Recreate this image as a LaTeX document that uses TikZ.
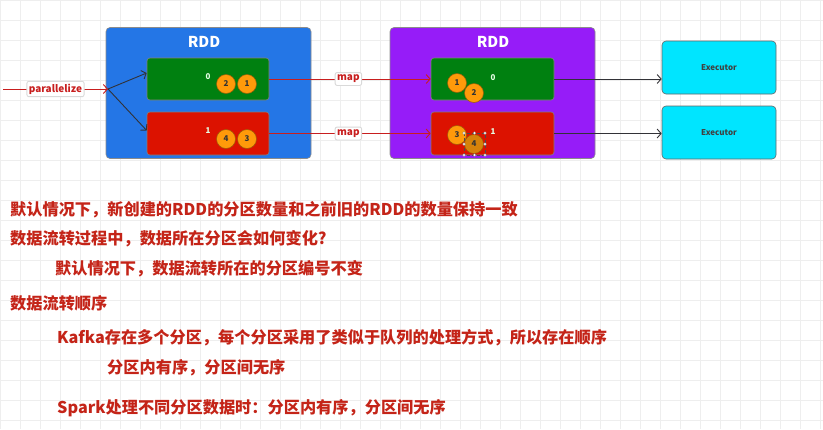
\documentclass[tikz,border=0pt]{standalone}
\usepackage{fontspec}
\setmainfont{Noto Sans CJK SC}
\usetikzlibrary{arrows.meta}
\definecolor{gridc}{RGB}{238,238,238}
\definecolor{rddblue}{RGB}{36,118,230}
\definecolor{rddpurple}{RGB}{150,28,248}
\definecolor{pgreen}{RGB}{0,128,16}
\definecolor{pred}{RGB}{220,18,0}
\definecolor{ecyan}{RGB}{0,229,255}
\definecolor{dorange}{RGB}{255,154,10}
\definecolor{dorangesel}{RGB}{214,130,10}
\definecolor{txtred}{RGB}{196,36,24}
\definecolor{arrred}{RGB}{200,30,30}
\definecolor{darkline}{RGB}{50,50,55}
\tikzset{
  rddbox/.style={draw=black!45, rounded corners=4pt, line width=0.6pt},
  partbox/.style={draw=black!50, rounded corners=3pt, line width=0.6pt},
  execbox/.style={draw=black!60, fill=ecyan, rounded corners=4pt, line width=0.6pt, minimum width=114, minimum height=53, font=\fontsize{8}{9}\selectfont\bfseries, text=black!75},
  rddtitle/.style={text=white, font=\fontsize{15}{16}\selectfont\bfseries},
  datum/.style={circle, fill=dorange, draw=black!40!dorange, line width=0.5pt, minimum size=19, inner sep=0pt, font=\fontsize{8}{9}\selectfont\bfseries, text=black!80},
  pidx/.style={text=white!90!green, font=\fontsize{8}{9}\selectfont\bfseries, inner sep=0pt},
  edgelabel/.style={fill=white, draw=black!15, rounded corners=2pt, inner xsep=2pt, inner ysep=2.5pt, text=arrred, font=\fontsize{10}{11}\selectfont\bfseries},
  redarrow/.style={draw=arrred, line width=0.9pt, -{Straight Barb[length=4pt,width=9pt]}},
  darkarrow/.style={draw=darkline, line width=0.9pt, -{Straight Barb[length=4pt,width=9pt]}},
  note/.style={anchor=west, inner sep=0pt, text=txtred, font=\fontsize{16.2}{17}\selectfont\bfseries},
  handle/.style={circle, fill=white, draw=black!60, line width=0.3pt, minimum size=3pt, inner sep=0pt}
}
\begin{document}
\begin{tikzpicture}[x=1pt,y=-1pt]
\useasboundingbox (0,0) rectangle (823,429);
\fill[white] (0,0) rectangle (823,429);
\foreach \i in {0,20,...,820} \draw[gridc, line width=0.5pt] (\i,0) -- (\i,429);
\foreach \j in {0,20,...,420} \draw[gridc, line width=0.5pt] (0,\j) -- (823,\j);

% first RDD
\node[rddbox, fill=rddblue, minimum width=205, minimum height=131] (rdd1) at (208.5,93) {};
\node[rddtitle] (t1) at (204,42) {RDD};
\node[partbox, fill=pgreen, minimum width=122, minimum height=42] (a0) at (208,79) {};
\node[partbox, fill=pred, minimum width=122, minimum height=43] (a1) at (208,133.5) {};
\node[pidx] (a0i) at (208,77) {0};
\node[pidx] (a1i) at (208,131) {1};
\node[datum] (c2) at (226,84) {2};
\node[datum] (c1) at (247,84) {1};
\node[datum] (c4) at (226,139) {4};
\node[datum] (c3) at (247,139) {3};

% second RDD
\node[rddbox, fill=rddpurple, minimum width=205, minimum height=131] (rdd2) at (492.5,93) {};
\node[rddtitle] (t2) at (493,42) {RDD};
\node[partbox, fill=pgreen, minimum width=123, minimum height=42] (b0) at (492.5,79) {};
\node[partbox, fill=pred, minimum width=123, minimum height=43] (b1) at (492.5,133.5) {};
\node[pidx] (b0i) at (493,78) {0};
\node[pidx] (b1i) at (493,132) {1};
\node[datum] (d1) at (457,83) {1};
\node[datum] (d2) at (474,93) {2};
\node[datum] (d3) at (457,135) {3};
\node[datum, fill=dorangesel] (d4) at (474,144) {4};
\draw[black!70, line width=0.4pt, densely dashed] (464,133) rectangle (485,155);
\foreach \hx/\hy [count=\k] in {464/133,474.5/133,485/133,464/144,485/144,464/155,474.5/155,485/155}
  \node[handle] (h\k) at (\hx,\hy) {};

% executors
\node[execbox] (e1) at (719,67.5) {Executor};
\node[execbox] (e2) at (719,132.5) {Executor};

% parallelize
\coordinate (src) at (3,89);
\coordinate (split) at (108,89);
\draw[redarrow] (src) -- node[edgelabel, pos=0.5] (plab) {parallelize} (split);
\draw[darkarrow] (split) -- ([yshift=6pt]a0.west);
\draw[darkarrow] (split) -- ([yshift=3pt]a1.west);

% map
\draw[redarrow] (a0.east) -- node[edgelabel, pos=0.49] (m1) {map} (b0.west);
\draw[redarrow] (a1.east) -- node[edgelabel, pos=0.49] (m2) {map} (b1.west);

% to executors
\draw[darkarrow] (b0.east) -- (b0.east -| e1.west);
\draw[darkarrow] (b1.east) -- (b1.east -| e2.west);

% notes
\node[note] (n1) at (10,210) {默认情况下，新创建的RDD的分区数量和之前旧的RDD的数量保持一致};
\node[note] (n2) at (10,239) {数据流转过程中，数据所在分区会如何变化?};
\node[note] (n3) at (55,269) {默认情况下，数据流转所在的分区编号不变};
\node[note] (n4) at (10,303) {数据流转顺序};
\node[note] (n5) at (57,338) {Kafka存在多个分区，每个分区采用了类似于队列的处理方式，所以存在顺序};
\node[note] (n6) at (107,368) {分区内有序，分区间无序};
\node[note] (n7) at (57,408) {Spark处理不同分区数据时：分区内有序，分区间无序};
\end{tikzpicture}
\end{document}
